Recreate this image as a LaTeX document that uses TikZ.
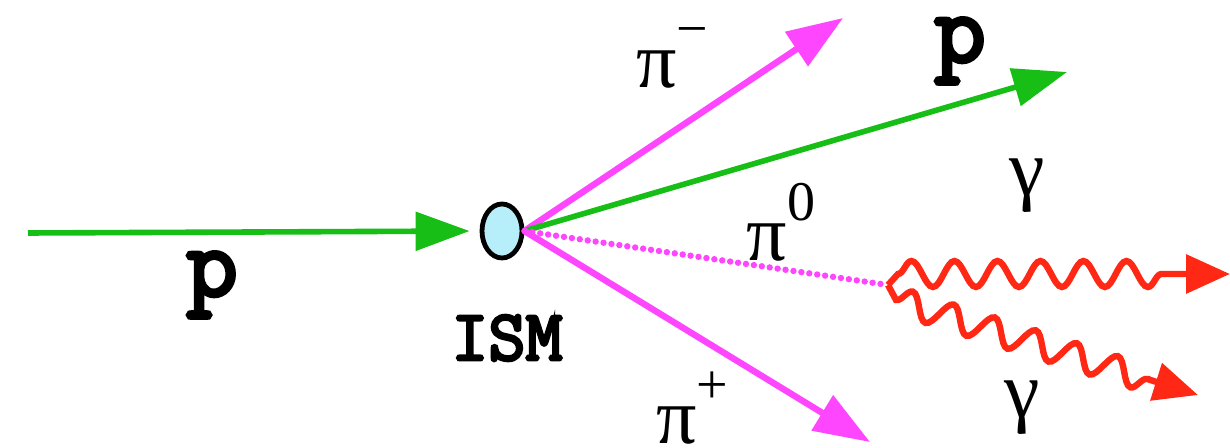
\documentclass[tikz,border=0pt]{standalone}
\usepackage{fontspec}
\newfontfamily\slabfont{Latin Modern Mono}[FakeBold=4]
\newfontfamily\greekfont{Liberation Serif}
\usetikzlibrary{shapes.geometric, arrows.meta, decorations.pathmorphing}

\definecolor{protongreen}{RGB}{22,190,22}
\definecolor{pionpink}{RGB}{255,70,255}
\definecolor{gammared}{RGB}{255,40,20}
\definecolor{ismblue}{RGB}{182,238,250}

\newcommand{\pioncharge}[1]{π\raisebox{0.5em}{\fontsize{28}{30}\selectfont #1}}

\tikzset{
  ttlabel/.style={font=\fontsize{50}{52}\selectfont\slabfont, inner sep=0pt},
  ismlabel/.style={font=\fontsize{36}{40}\selectfont\slabfont, inner sep=0pt},
  greeklabel/.style={font=\fontsize{40}{42}\selectfont\greekfont, inner sep=0pt},
  proton/.style={protongreen, line width=2.8pt, -{Triangle[length=27pt,width=19pt]}},
  pion/.style={pionpink, line width=3.2pt, -{Triangle[length=28pt,width=20pt]}},
  neutralpion/.style={pionpink, line width=3.2pt, line cap=round, dash pattern=on 0pt off 4pt},
  photon/.style={gammared, line width=3.2pt, -{Triangle[length=22pt,width=19pt]}},
  wiggle/.style={decorate, decoration={snake, amplitude=6.5pt, segment length=21.5pt, post length=26pt}}
}

\begin{document}
\begin{tikzpicture}[x=0.5pt,y=-0.5pt]
\useasboundingbox (0,0) rectangle (1230,448);

% target and vertex
\node[ellipse, draw=black, line width=2.4pt, fill=ismblue, minimum width=20pt, minimum height=27pt, inner sep=0pt] (ism) at (502,231) {};
\node[ismlabel] (ismtext) at (507,338) {ISM};

% incoming proton
\coordinate (pin) at (28,233);
\draw[proton, shorten >=5pt] (pin) -- (ism.west);
\node[ttlabel] (pinlabel) at (212,285) {p};

% outgoing particles
\coordinate (pimtip) at (843,18);
\coordinate (pouttip) at (1067,72);
\coordinate (gvertex) at (888,285);
\coordinate (piptip) at (870,442);
\draw[pion] (ism.east) -- (pimtip);
\draw[proton] (ism.east) -- (pouttip);
\draw[neutralpion] (ism.east) -- (gvertex);
\draw[pion] (ism.east) -- (piptip);
\node[greeklabel] (pimlabel) at (672,58) {\pioncharge{−}};
\node[ttlabel] (poutlabel) at (960,51) {p};
\node[greeklabel] (pi0label) at (781,222) {\pioncharge{0}};
\node[greeklabel] (piplabel) at (692,408) {\pioncharge{+}};

% photons
\coordinate (g1start) at (898,274);
\coordinate (g1tip) at (1230,274);
\coordinate (g2start) at (896,300);
\coordinate (g2tip) at (1198,395);
\draw[photon] (gvertex) -- (g1start) decorate[wiggle] {-- (g1tip)};
\draw[photon] (gvertex) -- (g2start) decorate[wiggle] {-- (g2tip)};
\node[greeklabel] (g1label) at (1027,186) {γ};
\node[greeklabel] (g2label) at (1022,408) {γ};
\end{tikzpicture}
\end{document}
